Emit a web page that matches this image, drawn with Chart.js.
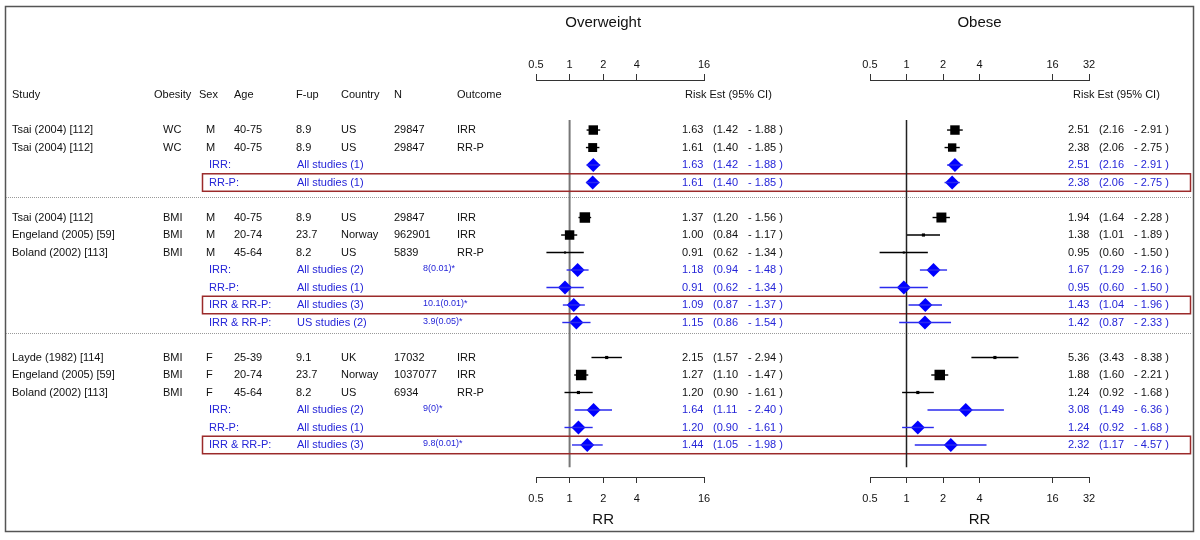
<!DOCTYPE html>
<html>
<head>
<meta charset="utf-8">
<script src="https://cdn.jsdelivr.net/npm/chart.js@4.4.0/dist/chart.umd.min.js"></script>
<style>
  body { margin: 0; background: #fff; }
  #wrap { position: relative; width: 1200px; height: 540px; }
  #wrap canvas { position: absolute; left: 0; top: 0; }
</style>
</head>
<body>
<div id="wrap">
  <canvas id="owChart" width="1200" height="540"></canvas>
  <canvas id="obChart" width="1200" height="540"></canvas>
</div>
<script>
// Global font settings
Chart.defaults.font.family = '"Liberation Sans", Arial, sans-serif';
Chart.defaults.font.size = 11;
Chart.defaults.color = '#111';

// Constants
const COLORS = {
    TEXT: '#111',
    BLUE_TEXT: '#2525d8',
    DIAMOND: '#0000ff',
    CI_BLUE: '#2a2aee',
    BOX: '#9b2a2a',
    FRAME: '#555',
    DOTS: '#999'
};
const FONT = '"Liberation Sans", Arial, sans-serif';
const Y_MIN = -2.86;   // row scale: row 0 = first study
const Y_MAX = 19.83;

// Study rows
const studyRows = [0, 1, 5, 6, 7, 13, 14, 15];
const studyName = ['Tsai (2004) [112]', 'Tsai (2004) [112]', 'Tsai (2004) [112]', 'Engeland (2005) [59]', 'Boland (2002) [113]',
                   'Layde (1982) [114]', 'Engeland (2005) [59]', 'Boland (2002) [113]'];
const studyObesity = ['WC', 'WC', 'BMI', 'BMI', 'BMI', 'BMI', 'BMI', 'BMI'];
const studySex = ['M', 'M', 'M', 'M', 'M', 'F', 'F', 'F'];
const studyAge = ['40-75', '40-75', '40-75', '20-74', '45-64', '25-39', '20-74', '45-64'];
const studyFup = ['8.9', '8.9', '8.9', '23.7', '8.2', '9.1', '23.7', '8.2'];
const studyCountry = ['US', 'US', 'US', 'Norway', 'US', 'UK', 'Norway', 'US'];
const studyN = ['29847', '29847', '29847', '962901', '5839', '17032', '1037077', '6934'];
const studyOutcome = ['IRR', 'RR-P', 'IRR', 'IRR', 'RR-P', 'IRR', 'IRR', 'RR-P'];

// Overweight study estimates
const owEst = [1.63, 1.61, 1.37, 1.00, 0.91, 2.15, 1.27, 1.20];
const owLo = [1.42, 1.40, 1.20, 0.84, 0.62, 1.57, 1.10, 0.90];
const owHi = [1.88, 1.85, 1.56, 1.17, 1.34, 2.94, 1.47, 1.61];
const owWeight = [0.9, 0.85, 1.0, 0.9, 0.2, 0.3, 1.0, 0.3];

// Obese study estimates
const obEst = [2.51, 2.38, 1.94, 1.38, 0.95, 5.36, 1.88, 1.24];
const obLo = [2.16, 2.06, 1.64, 1.01, 0.60, 3.43, 1.60, 0.92];
const obHi = [2.91, 2.75, 2.28, 1.89, 1.50, 8.38, 2.21, 1.68];
const obWeight = [0.9, 0.8, 0.95, 0.3, 0.2, 0.3, 1.0, 0.3];

// Summary rows
const sumRows = [2, 3, 8, 9, 10, 11, 16, 17, 18];
const sumType = ['IRR:', 'RR-P:', 'IRR:', 'RR-P:', 'IRR & RR-P:', 'IRR & RR-P:', 'IRR:', 'RR-P:', 'IRR & RR-P:'];
const sumSet = ['All studies (1)', 'All studies (1)', 'All studies (2)', 'All studies (1)', 'All studies (3)',
                'US studies (2)', 'All studies (2)', 'All studies (1)', 'All studies (3)'];
const sumHet = ['', '', '8(0.01)*', '', '10.1(0.01)*', '3.9(0.05)*', '9(0)*', '', '9.8(0.01)*'];
const boxedRows = [3, 10, 18];

const owSumEst = [1.63, 1.61, 1.18, 0.91, 1.09, 1.15, 1.64, 1.20, 1.44];
const owSumLo = [1.42, 1.40, 0.94, 0.62, 0.87, 0.86, 1.11, 0.90, 1.05];
const owSumHi = [1.88, 1.85, 1.48, 1.34, 1.37, 1.54, 2.40, 1.61, 1.98];

const obSumEst = [2.51, 2.38, 1.67, 0.95, 1.43, 1.42, 3.08, 1.24, 2.32];
const obSumLo = [2.16, 2.06, 1.29, 0.60, 1.04, 0.87, 1.49, 0.92, 1.17];
const obSumHi = [2.91, 2.75, 2.16, 1.50, 1.96, 2.33, 6.36, 1.68, 4.57];

// Axis ticks
const owTicks = [0.5, 1, 2, 4, 16];
const obTicks = [0.5, 1, 2, 4, 16, 32];

// Table columns: header text, header x, value x
const columns = [
    { head: 'Study', hx: 12, vx: 12, values: studyName },
    { head: 'Obesity', hx: 154, vx: 163, values: studyObesity },
    { head: 'Sex', hx: 199, vx: 206, values: studySex },
    { head: 'Age', hx: 234, vx: 234, values: studyAge },
    { head: 'F-up', hx: 296, vx: 296, values: studyFup },
    { head: 'Country', hx: 341, vx: 341, values: studyCountry },
    { head: 'N', hx: 394, vx: 394, values: studyN },
    { head: 'Outcome', hx: 457, vx: 457, values: studyOutcome }
];
const SEPARATORS = [3.83, 11.6];

function txt(ctx, s, x, y, color, size, align) {
    ctx.font = (size || 11) + 'px ' + FONT;
    ctx.fillStyle = color || COLORS.TEXT;
    ctx.textAlign = align || 'left';
    ctx.textBaseline = 'middle';
    ctx.fillText(s, x, y);
}

// Risk estimate columns "1.63  (1.42  - 1.88 )"
function drawEstimates(ctx, y, x0, est, lo, hi, rows, color) {
    rows.forEach((r, i) => {
        const py = y.getPixelForValue(r);
        txt(ctx, est[i].toFixed(2), x0, py, color);
        txt(ctx, '(' + lo[i].toFixed(2), x0 + 31, py, color);
        txt(ctx, '- ' + hi[i].toFixed(2) + ' )', x0 + 66, py, color);
    });
}

// Vertical line of no effect
const refLine = {
    id: 'refLine',
    beforeDatasetsDraw(chart, args, opts) {
        const ctx = chart.ctx, x = chart.scales.x.getPixelForValue(1), y = chart.scales.y;
        ctx.save();
        ctx.strokeStyle = opts.color;
        ctx.lineWidth = opts.width;
        ctx.beginPath();
        ctx.moveTo(x, y.getPixelForValue(-0.57));
        ctx.lineTo(x, y.getPixelForValue(19.27));
        ctx.stroke();
        ctx.restore();
    }
};

// Left table, frame, separators and boxes (drawn by the overweight chart)
const tablePlugin = {
    id: 'tablePlugin',
    afterDraw(chart) {
        const ctx = chart.ctx, y = chart.scales.y;
        ctx.save();
        // frame
        ctx.strokeStyle = COLORS.FRAME;
        ctx.lineWidth = 1.5;
        ctx.strokeRect(5.5, 6.5, 1188, 525);
        // dotted separators
        ctx.strokeStyle = COLORS.DOTS;
        ctx.lineWidth = 1;
        ctx.setLineDash([1, 1]);
        SEPARATORS.forEach(s => {
            const py = Math.round(y.getPixelForValue(s)) + 0.5;
            ctx.beginPath();
            ctx.moveTo(6, py);
            ctx.lineTo(1192, py);
            ctx.stroke();
        });
        ctx.setLineDash([]);
        // boxes round pooled rows
        ctx.strokeStyle = COLORS.BOX;
        ctx.lineWidth = 1.5;
        boxedRows.forEach(r => {
            const top = y.getPixelForValue(r - 0.5), bot = y.getPixelForValue(r + 0.5);
            ctx.strokeRect(202.5, top, 988, bot - top);
        });
        // headers and study rows
        const hy = y.getPixelForValue(-2);
        columns.forEach(c => {
            txt(ctx, c.head, c.hx, hy);
            studyRows.forEach((r, i) => txt(ctx, c.values[i], c.vx, y.getPixelForValue(r)));
        });
        // pooled rows
        sumRows.forEach((r, i) => {
            const py = y.getPixelForValue(r);
            txt(ctx, sumType[i], 209, py, COLORS.BLUE_TEXT);
            txt(ctx, sumSet[i], 297, py, COLORS.BLUE_TEXT);
            if (sumHet[i]) txt(ctx, sumHet[i], 423, py - 1, COLORS.BLUE_TEXT, 9);
        });
        ctx.restore();
    }
};

// Estimates text, title and axis name of each panel
const panelPlugin = {
    id: 'panelPlugin',
    afterDraw(chart, args, opts) {
        const ctx = chart.ctx, y = chart.scales.y, x = chart.scales.x;
        const d = opts.data;
        ctx.save();
        txt(ctx, opts.title, x.getPixelForValue(opts.centre), 23, COLORS.TEXT, 15, 'center');
        txt(ctx, 'RR', x.getPixelForValue(opts.centre), 520, COLORS.TEXT, 15, 'center');
        txt(ctx, 'Risk Est (95% CI)', opts.headX, y.getPixelForValue(-2));
        drawEstimates(ctx, y, opts.estX, d.est, d.lo, d.hi, studyRows, COLORS.TEXT);
        drawEstimates(ctx, y, opts.estX, d.sEst, d.sLo, d.sHi, sumRows, COLORS.BLUE_TEXT);
        ctx.restore();
    }
};

function axisOptions(position, ticks, max, height, pad) {
    return {
        type: 'logarithmic',
        position: position,
        min: 0.5,
        max: max,
        afterBuildTicks: s => { s.ticks = ticks.map(v => ({ value: v })); },
        afterFit: s => { s.height = height; },
        ticks: { callback: v => String(v), autoSkip: false, maxRotation: 0, padding: pad, color: COLORS.TEXT },
        grid: { drawOnChartArea: false, tickLength: 6, color: '#333', lineWidth: 1 },
        border: { display: true, color: '#333', width: 1 }
    };
}

function initForest(elementId, d, ticks, max, padLeft, padRight, panel, extraPlugins) {
    const datasets = [];
    studyRows.forEach((r, i) => datasets.push({
        data: [{ x: d.lo[i], y: r }, { x: d.hi[i], y: r }],
        showLine: true, borderColor: '#000', borderWidth: 1.4, pointRadius: 0
    }));
    sumRows.forEach((r, i) => datasets.push({
        data: [{ x: d.sLo[i], y: r }, { x: d.sHi[i], y: r }],
        showLine: true, borderColor: COLORS.CI_BLUE, borderWidth: 1.4, pointRadius: 0
    }));
    datasets.push({
        data: studyRows.map((r, i) => ({ x: d.est[i], y: r })),
        pointStyle: 'rect',
        pointRadius: d.wt.map(w => w * 10.5 * Math.SQRT1_2),
        backgroundColor: '#000',
        borderWidth: 0
    });
    datasets.push({
        data: sumRows.map((r, i) => ({ x: d.sEst[i], y: r })),
        pointStyle: 'rectRot',
        pointRadius: 7,
        backgroundColor: COLORS.DIAMOND,
        borderWidth: 0
    });

    return new Chart(document.getElementById(elementId), {
        type: 'scatter',
        data: { datasets: datasets },
        options: {
            responsive: false,
            animation: false,
            events: [],
            layout: { padding: { left: padLeft, right: padRight, top: 40, bottom: 33 } },
            plugins: {
                legend: { display: false },
                tooltip: { enabled: false },
                refLine: panel.ref,
                panelPlugin: Object.assign({ data: d }, panel)
            },
            scales: {
                x: axisOptions('bottom', ticks, max, 30, 9),
                x2: axisOptions('top', ticks, max, 40, 2),
                y: { type: 'linear', display: false, min: Y_MIN, max: Y_MAX, reverse: true }
            }
        },
        plugins: [refLine, panelPlugin].concat(extraPlugins)
    });
}

initForest('owChart',
    { est: owEst, lo: owLo, hi: owHi, wt: owWeight, sEst: owSumEst, sLo: owSumLo, sHi: owSumHi },
    owTicks, 16, 536, 496,
    { title: 'Overweight', centre: 2, headX: 685, estX: 682, ref: { color: '#777', width: 2 } },
    [tablePlugin]);

initForest('obChart',
    { est: obEst, lo: obLo, hi: obHi, wt: obWeight, sEst: obSumEst, sLo: obSumLo, sHi: obSumHi },
    obTicks, 32, 870, 111,
    { title: 'Obese', centre: 4, headX: 1073, estX: 1068, ref: { color: '#222', width: 1.5 } },
    []);
</script>
</body>
</html>
